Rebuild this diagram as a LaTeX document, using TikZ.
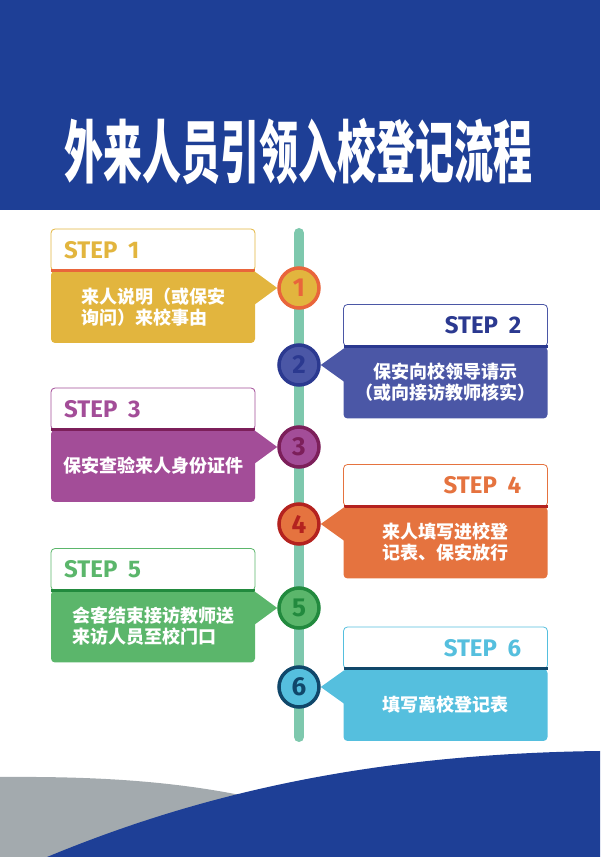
\documentclass[tikz,border=0pt]{standalone}
\usepackage{fontspec}
\usepackage{graphicx}
\usetikzlibrary{positioning, calc}
\newfontfamily\cjk{Noto Sans CJK SC}
\newfontfamily\stepfont{Fira Sans}
\definecolor{bannerblue}{HTML}{1E3F96}
\definecolor{barmint}{HTML}{7EC8AD}
\definecolor{wavegray}{HTML}{A3AAAE}
\definecolor{stepgold}{HTML}{E2B53E}
\definecolor{stepgoldborder}{HTML}{E9653B}
\definecolor{stepblue}{HTML}{4B57A6}
\definecolor{stepblueborder}{HTML}{2B3990}
\definecolor{steppurple}{HTML}{A34D98}
\definecolor{steppurpleborder}{HTML}{7C1F5A}
\definecolor{steporange}{HTML}{E5733F}
\definecolor{steporangeborder}{HTML}{B4221F}
\definecolor{stepgreen}{HTML}{5BB66B}
\definecolor{stepgreenborder}{HTML}{228A3E}
\definecolor{stepcyan}{HTML}{55BFDE}
\definecolor{stepcyanborder}{HTML}{10476A}

\begin{document}
\begin{tikzpicture}[x=1pt, y=1pt,
      head/.style={draw, fill=white, line width=0.8pt, rounded corners=4pt,
        minimum width=204pt, minimum height=42pt, outer sep=0pt},
      body/.style={rounded corners=4pt, minimum width=204pt,
        minimum height=72pt, outer sep=0pt, text=white,
        font=\cjk\bfseries\fontsize{18}{21}\selectfont},
      steplabel/.style={inner sep=0pt,
        font=\stepfont\bfseries\fontsize{24}{24}\selectfont},
      dot/.style={circle, line width=3.5pt, minimum size=40pt, inner sep=0pt,
        font=\stepfont\bfseries\fontsize{26}{26}\selectfont},
      sep/.style={line width=3pt},
      bar/.style={line width=10pt, line cap=round, barmint}
    ]
      \useasboundingbox (0,0) rectangle (600,857);
      % banner
      \fill[bannerblue] (0,647) rectangle (600,857);
      \node[text=white, font=\cjk\bfseries\fontsize{39}{39}\selectfont]
        (title) at (298.5,705) {\scalebox{1}[1.75]{外来人员引领入校登记流程}};
      % waves at the foot
      \fill[wavegray] (0,80) .. controls (140,81) and (280,72) .. (420,0)
        -- (0,0) -- cycle;
      \fill[bannerblue] (47,0) .. controls (180,55) and (350,103) .. (600,106)
        -- (600,0) -- cycle;
      % timeline
      \coordinate (bartop) at (299,624);
      \coordinate (barbot) at (299,120);
      \draw[bar] (bartop) -- (barbot);
      \node[dot, fill=stepgold, draw=stepgoldborder, text=stepgoldborder]
        (c1) at (299,569) {1};
      \node[dot, fill=stepblue, draw=stepblueborder, text=stepblueborder]
        (c2) at (299,492) {2};
      \node[dot, fill=steppurple, draw=steppurpleborder, text=steppurpleborder]
        (c3) at (299,410) {3};
      \node[dot, fill=steporange, draw=steporangeborder, text=steporangeborder]
        (c4) at (299,333) {4};
      \node[dot, fill=stepgreen, draw=stepgreenborder, text=stepgreenborder]
        (c5) at (299,249) {5};
      \node[dot, fill=stepcyan, draw=stepcyanborder, text=stepcyanborder]
        (c6) at (299,170) {6};
      % step 1
      \node[body, fill=stepgold, align=left] (b1) at (153,550)
        {来人说明（或保安\\询问）来校事由};
      \node[head, draw=stepgold, above=0pt of b1] (h1) {};
      \draw[sep, stepgoldborder] (h1.south west) -- (h1.south east);
      \node[steplabel, text=stepgold, right=13pt of h1.west] (s1)
        {STEP\hspace{0.45em}1};
      \fill[stepgold] ($(b1.east |- c1)+(-1,17)$) -- (c1.west)
        -- ($(b1.east |- c1)+(-1,-17)$) -- cycle;
      % step 2
      \node[body, fill=stepblue, align=center] (b2) at (445.5,474.5)
        {保安向校领导请示\\（或向接访教师核实）};
      \node[head, draw=stepblue, above=0pt of b2] (h2) {};
      \draw[sep, stepblueborder] (h2.south west) -- (h2.south east);
      \node[steplabel, text=stepblueborder, left=26pt of h2.east] (s2)
        {STEP\hspace{0.45em}2};
      \fill[stepblue] ($(b2.west |- c2)+(1,17)$) -- (c2.east)
        -- ($(b2.west |- c2)+(1,-17)$) -- cycle;
      % step 3
      \node[body, fill=steppurple, align=left] (b3) at (153,391)
        {保安查验来人身份证件};
      \node[head, draw=steppurple, above=0pt of b3] (h3) {};
      \draw[sep, steppurpleborder] (h3.south west) -- (h3.south east);
      \node[steplabel, text=steppurple, right=13pt of h3.west] (s3)
        {STEP\hspace{0.45em}3};
      \fill[steppurple] ($(b3.east |- c3)+(-1,17)$) -- (c3.west)
        -- ($(b3.east |- c3)+(-1,-17)$) -- cycle;
      % step 4
      \node[body, fill=steporange, align=left] (b4) at (445.5,314.5)
        {来人填写进校登\\记表、保安放行};
      \node[head, draw=steporange, above=0pt of b4] (h4) {};
      \draw[sep, steporangeborder] (h4.south west) -- (h4.south east);
      \node[steplabel, text=steporange, left=26pt of h4.east] (s4)
        {STEP\hspace{0.45em}4};
      \fill[steporange] ($(b4.west |- c4)+(1,17)$) -- (c4.east)
        -- ($(b4.west |- c4)+(1,-17)$) -- cycle;
      % step 5
      \node[body, fill=stepgreen, align=left] (b5) at (153,230.5)
        {会客结束接访教师送\\来访人员至校门口};
      \node[head, draw=stepgreen, above=0pt of b5] (h5) {};
      \draw[sep, stepgreenborder] (h5.south west) -- (h5.south east);
      \node[steplabel, text=stepgreen, right=13pt of h5.west] (s5)
        {STEP\hspace{0.45em}5};
      \fill[stepgreen] ($(b5.east |- c5)+(-1,17)$) -- (c5.west)
        -- ($(b5.east |- c5)+(-1,-17)$) -- cycle;
      % step 6
      \node[body, fill=stepcyan, align=center] (b6) at (445.5,152)
        {填写离校登记表};
      \node[head, draw=stepcyan, above=0pt of b6] (h6) {};
      \draw[sep, stepcyanborder] (h6.south west) -- (h6.south east);
      \node[steplabel, text=stepcyan, left=26pt of h6.east] (s6)
        {STEP\hspace{0.45em}6};
      \fill[stepcyan] ($(b6.west |- c6)+(1,17)$) -- (c6.east)
        -- ($(b6.west |- c6)+(1,-17)$) -- cycle;
    \end{tikzpicture}
\end{document}
